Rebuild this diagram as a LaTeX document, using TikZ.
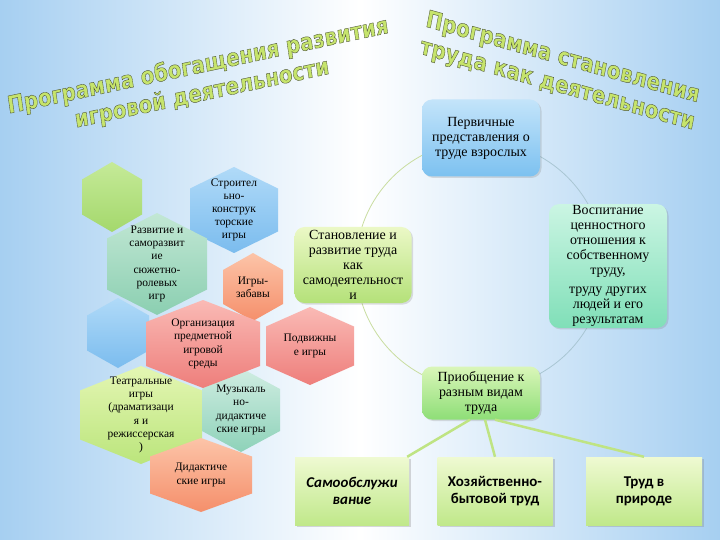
\documentclass[tikz,border=0pt]{standalone}
\usepackage{fontspec}
\setmainfont{Liberation Serif}
\newfontfamily\titlefont{DejaVu Sans}
\newfontfamily\tilefont{Carlito}
\usetikzlibrary{shadows,calc}

\definecolor{bgblue}{HTML}{A6CFF1}
\definecolor{titlegreen}{HTML}{C6E46C}
\definecolor{ringgreen}{HTML}{C9DDA0}
\definecolor{ringblue}{HTML}{A9C6D3}
\definecolor{feedgreen}{HTML}{BFE483}
% fills, top and bottom
\definecolor{leaftop}{HTML}{C5EA98}\definecolor{leafbot}{HTML}{A4D86C}
\definecolor{skytop}{HTML}{B0DAF8}\definecolor{skybot}{HTML}{7BBCEE}
\definecolor{mintop}{HTML}{C2E7D4}\definecolor{minbot}{HTML}{8BCFB1}
\definecolor{peachtop}{HTML}{FCC4A8}\definecolor{peachbot}{HTML}{F58F6B}
\definecolor{rosetop}{HTML}{FABAB5}\definecolor{rosebot}{HTML}{EE7E7B}
\definecolor{limetop}{HTML}{E4F6B3}\definecolor{limebot}{HTML}{BBE57C}
\definecolor{seatop}{HTML}{D0EDE2}\definecolor{seabot}{HTML}{8ED2B9}
\definecolor{firsttop}{HTML}{C3E4FA}\definecolor{firstbot}{HTML}{7CC1F0}
\definecolor{selftop}{HTML}{EBF8C6}\definecolor{selfbot}{HTML}{B4E179}
\definecolor{valuetop}{HTML}{CBF5E3}\definecolor{valuebot}{HTML}{80DFB8}
\definecolor{priotop}{HTML}{DAF6B9}\definecolor{priobot}{HTML}{8EDE77}
\definecolor{kindtop}{HTML}{EFFAD2}\definecolor{kindbot}{HTML}{C0E88A}

% outlined letters for the titles
\newcommand{\outlined}[1]{\special{pdf:literal direct 2 Tr 0.4 w 0.3 0.33 0.2 RG}#1\special{pdf:literal direct 0 Tr}}

% one hexagonal cell: name, cx, cy, half width, half height, top colour, bottom colour, text
\newcommand{\hexcell}[8]{%
  \shade[top color=#6, bottom color=#7]
    (#2,#3-#5) -- (#2+#4,#3-#5/2) -- (#2+#4,#3+#5/2) -- (#2,#3+#5)
    -- (#2-#4,#3+#5/2) -- (#2-#4,#3-#5/2) -- cycle;
  \node[hextext] (#1) at (#2,#3) {#8};}

\tikzset{
  hextext/.style={align=center, inner sep=0pt, font=\fontsize{11.5}{13.2}\selectfont},
  roundbox/.style={rounded corners=10bp, align=center, inner sep=1bp,
    minimum width=118bp, font=\fontsize{14}{15}\selectfont,
    drop shadow={shadow xshift=1.5bp, shadow yshift=-1.5bp, opacity=0.25}},
  kindbox/.style={align=center, minimum width=114bp, minimum height=68bp,
    top color=kindtop, bottom color=kindbot,
    font=\tilefont\bfseries\fontsize{15}{17}\selectfont,
    drop shadow={shadow xshift=2bp, shadow yshift=-2bp, opacity=0.3}},
  feed/.style={feedgreen, line width=2.5bp},
  titletext/.style={align=center, inner sep=0pt, titlegreen, xscale=0.83,
    font=\titlefont\bfseries\fontsize{24}{28}\selectfont},
}

\begin{document}
\begin{tikzpicture}[x=1bp, y=-1bp]
\useasboundingbox (0,0) rectangle (720,540);
\shade[left color=bgblue, right color=bgblue, middle color=white] (0,0) rectangle (720,540);

% titles
\node[titletext, rotate=10] (lefttitle) at (200,80)
  {\outlined{Программа обогащения развития}\\\outlined{игровой деятельности}};
\node[titletext, rotate=-13] (righttitle) at (560,72)
  {\outlined{Программа становления}\\\outlined{труда как деятельности}};

% hexagons of play
\hexcell{hgreen}{112}{197}{30}{35}{leaftop}{leafbot}{}
\hexcell{hbuild}{234}{210}{44}{43}{skytop}{skybot}
  {Строител\\ьно-\\конструк\\торские\\игры}
\hexcell{hrole}{157}{264}{50}{51}{mintop}{minbot}
  {Развитие и\\саморазвит\\ие\\сюжетно-\\ролевых\\игр}
\hexcell{hfun}{253}{287}{30}{34}{peachtop}{peachbot}
  {Игры-\\забавы}
\hexcell{hblue}{118}{333}{31}{35}{skytop}{skybot}{}
\hexcell{hmove}{310}{346}{44}{39}{rosetop}{rosebot}
  {Подвижны\\е игры}
\hexcell{htheatre}{141}{415}{61}{49}{limetop}{limebot}
  {Театральные\\игры\\(драматизаци\\я и\\режиссерская\\)}
\hexcell{hmusic}{241}{410}{39}{42}{seatop}{seabot}
  {Музыкаль\\но-\\дидактиче\\ские игры}
\hexcell{hsetup}{203}{344}{57}{44}{rosetop}{rosebot}
  {Организация\\предметной\\игровой\\среды}
\hexcell{hdid}{201}{475}{51}{37}{peachtop}{peachbot}
  {Дидактиче\\ские игры}

% ring of labour
\coordinate (ringc) at (480,265);
\draw[ringgreen, line width=0.8bp] (ringc) ++(0,-124) arc[start angle=270, end angle=90, radius=124];
\draw[ringblue, line width=0.8bp] (ringc) ++(0,-124) arc[start angle=-90, end angle=90, radius=124];

\node[roundbox, minimum height=77bp, top color=firsttop, bottom color=firstbot]
  (first) at (481,138) {Первичные\\представления о\\труде взрослых};
\node[roundbox, minimum width=117bp, minimum height=76bp, top color=selftop, bottom color=selfbot]
  (selfwork) at (353,265) {Становление и\\развитие труда\\как\\самодеятельност\\и};
\node[roundbox, minimum height=122bp, top color=valuetop, bottom color=valuebot]
  (value) at (608,266) {Воспитание\\ценностного\\отношения к\\собственному\\труду,\\[5bp]труду других\\людей и его\\результатам};
\node[roundbox, minimum height=53bp, top color=priotop, bottom color=priobot]
  (prio) at (481,393) {Приобщение к\\разным видам\\труда};

% kinds of labour
\node[kindbox] (self) at (352,491) {\itshape Самообслужи\\\itshape вание};
\node[kindbox, minimum width=115bp] (house) at (495,491) {Хозяйственно-\\бытовой труд};
\node[kindbox, minimum width=116bp] (nature) at (644,491) {Труд в\\природе};

\draw[feed] ($(prio.south)+(-11,0)$) -- ($(self.north east)+(-2,0)$);
\draw[feed] ($(prio.south)+(4,0)$) -- (house.north);
\draw[feed] ($(prio.south)+(14,0)$) -- (nature.north);
\end{tikzpicture}
\end{document}
